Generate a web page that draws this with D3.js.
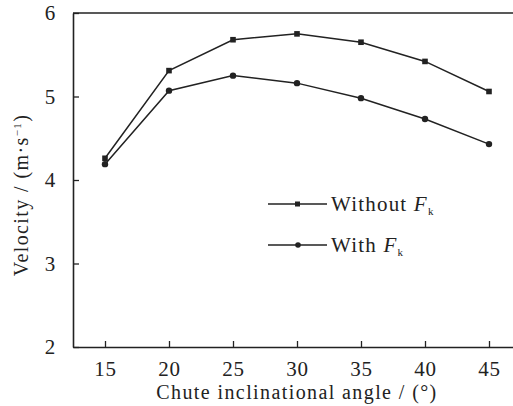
<!DOCTYPE html>
<html>
<head>
<meta charset="utf-8">
<script src="https://cdn.jsdelivr.net/npm/d3@7"></script>
<style>
  body { margin: 0; background: #fff; }
  text { font-family: "Liberation Serif", "DejaVu Serif", serif; fill: #222; }
</style>
</head>
<body>
<div class="chart"></div>
<script>
var svgWidth = 513;
var svgHeight = 406;

// data
var angles = [15, 20, 25, 30, 35, 40, 45];
var withoutFk = [4.26, 5.31, 5.68, 5.75, 5.65, 5.42, 5.06];
var withFk = [4.19, 5.07, 5.25, 5.16, 4.98, 4.73, 4.43];
var xTicks = [15, 20, 25, 30, 35, 40, 45];
var yTicks = [2, 3, 4, 5, 6];

var svg = d3.select(".chart")
  .append("svg")
  .attr("width", svgWidth)
  .attr("height", svgHeight);

// scales
var xScale = d3.scaleLinear()
  .domain([12.5, 47.5])
  .range([73, 521]);

var yScale = d3.scaleLinear()
  .domain([2, 6])
  .range([347, 13]);

var ink = "#222";

// axes with inward ticks
var xAxis = d3.axisBottom(xScale)
  .tickValues(xTicks)
  .tickFormat(d3.format("d"))
  .tickSize(-6)
  .tickPadding(14)
  .tickSizeOuter(0);

var yAxis = d3.axisLeft(yScale)
  .tickValues(yTicks)
  .tickFormat(d3.format("d"))
  .tickSize(-6)
  .tickPadding(17)
  .tickSizeOuter(0);

var gx = svg.append("g")
  .attr("transform", `translate(0, ${yScale(2)})`)
  .call(xAxis);

var gy = svg.append("g")
  .attr("transform", `translate(${xScale(12.5)}, 0)`)
  .call(yAxis);

[gx, gy].forEach(function(g) {
  g.select(".domain").attr("stroke", ink).attr("stroke-width", 1.6);
  g.selectAll(".tick line").attr("stroke", ink).attr("stroke-width", 1.3);
  g.selectAll(".tick text")
    .attr("font-family", "Liberation Serif")
    .attr("font-size", 21)
    .attr("letter-spacing", 0.8)
    .attr("fill", ink);
});

// top frame line
svg.append("line")
  .attr("x1", xScale(12.5))
  .attr("x2", svgWidth)
  .attr("y1", yScale(6))
  .attr("y2", yScale(6))
  .attr("stroke", ink)
  .attr("stroke-width", 1.6);

// lines
var line = d3.line()
  .x((d, i) => xScale(angles[i]))
  .y(d => yScale(d));

[withoutFk, withFk].forEach(function(series) {
  svg.append("path")
    .attr("d", line(series))
    .attr("fill", "none")
    .attr("stroke", ink)
    .attr("stroke-width", 1.5);
});

// markers: squares for without, circles for with
svg.selectAll(".sq")
  .data(withoutFk)
  .enter()
  .append("rect")
  .attr("x", (d, i) => xScale(angles[i]) - 2.8)
  .attr("y", d => yScale(d) - 2.8)
  .attr("width", 5.6)
  .attr("height", 5.6)
  .attr("fill", ink);

svg.selectAll(".dot")
  .data(withFk)
  .enter()
  .append("circle")
  .attr("cx", (d, i) => xScale(angles[i]))
  .attr("cy", d => yScale(d))
  .attr("r", 3.2)
  .attr("fill", ink);

// legend
var legend = [
  { label: "Without ", y: 204, shape: "rect" },
  { label: "With ", y: 245, shape: "circle" }
];

legend.forEach(function(l) {
  svg.append("line")
    .attr("x1", 268).attr("x2", 327)
    .attr("y1", l.y).attr("y2", l.y)
    .attr("stroke", ink).attr("stroke-width", 1.5);
  if (l.shape === "rect") {
    svg.append("rect")
      .attr("x", 295).attr("y", l.y - 2.5)
      .attr("width", 5).attr("height", 5)
      .attr("fill", ink);
  } else {
    svg.append("circle")
      .attr("cx", 298).attr("cy", l.y).attr("r", 2.8)
      .attr("fill", ink);
  }
  var t = svg.append("text")
    .attr("x", 331)
    .attr("y", l.y + 7)
    .attr("font-size", 21)
    .attr("letter-spacing", 1.2);
  t.append("tspan").text(l.label);
  t.append("tspan").attr("font-style", "italic").text("F");
  t.append("tspan").attr("font-size", 11).attr("dy", 4).text("k");
});

// axis titles
svg.append("text")
  .attr("x", 297)
  .attr("y", 399)
  .attr("text-anchor", "middle")
  .attr("font-size", 20)
  .attr("letter-spacing", 1.4)
  .text("Chute inclinational angle / (°)");

var yt = svg.append("text")
  .attr("transform", "translate(28, 195) rotate(-90)")
  .attr("text-anchor", "middle")
  .attr("font-size", 20)
  .attr("letter-spacing", 1.4);
yt.append("tspan").text("Velocity / (m·s");
yt.append("tspan").attr("font-size", 11).attr("dy", -7).text("−1");
yt.append("tspan").attr("dy", 7).text(")");
</script>
</body>
</html>
